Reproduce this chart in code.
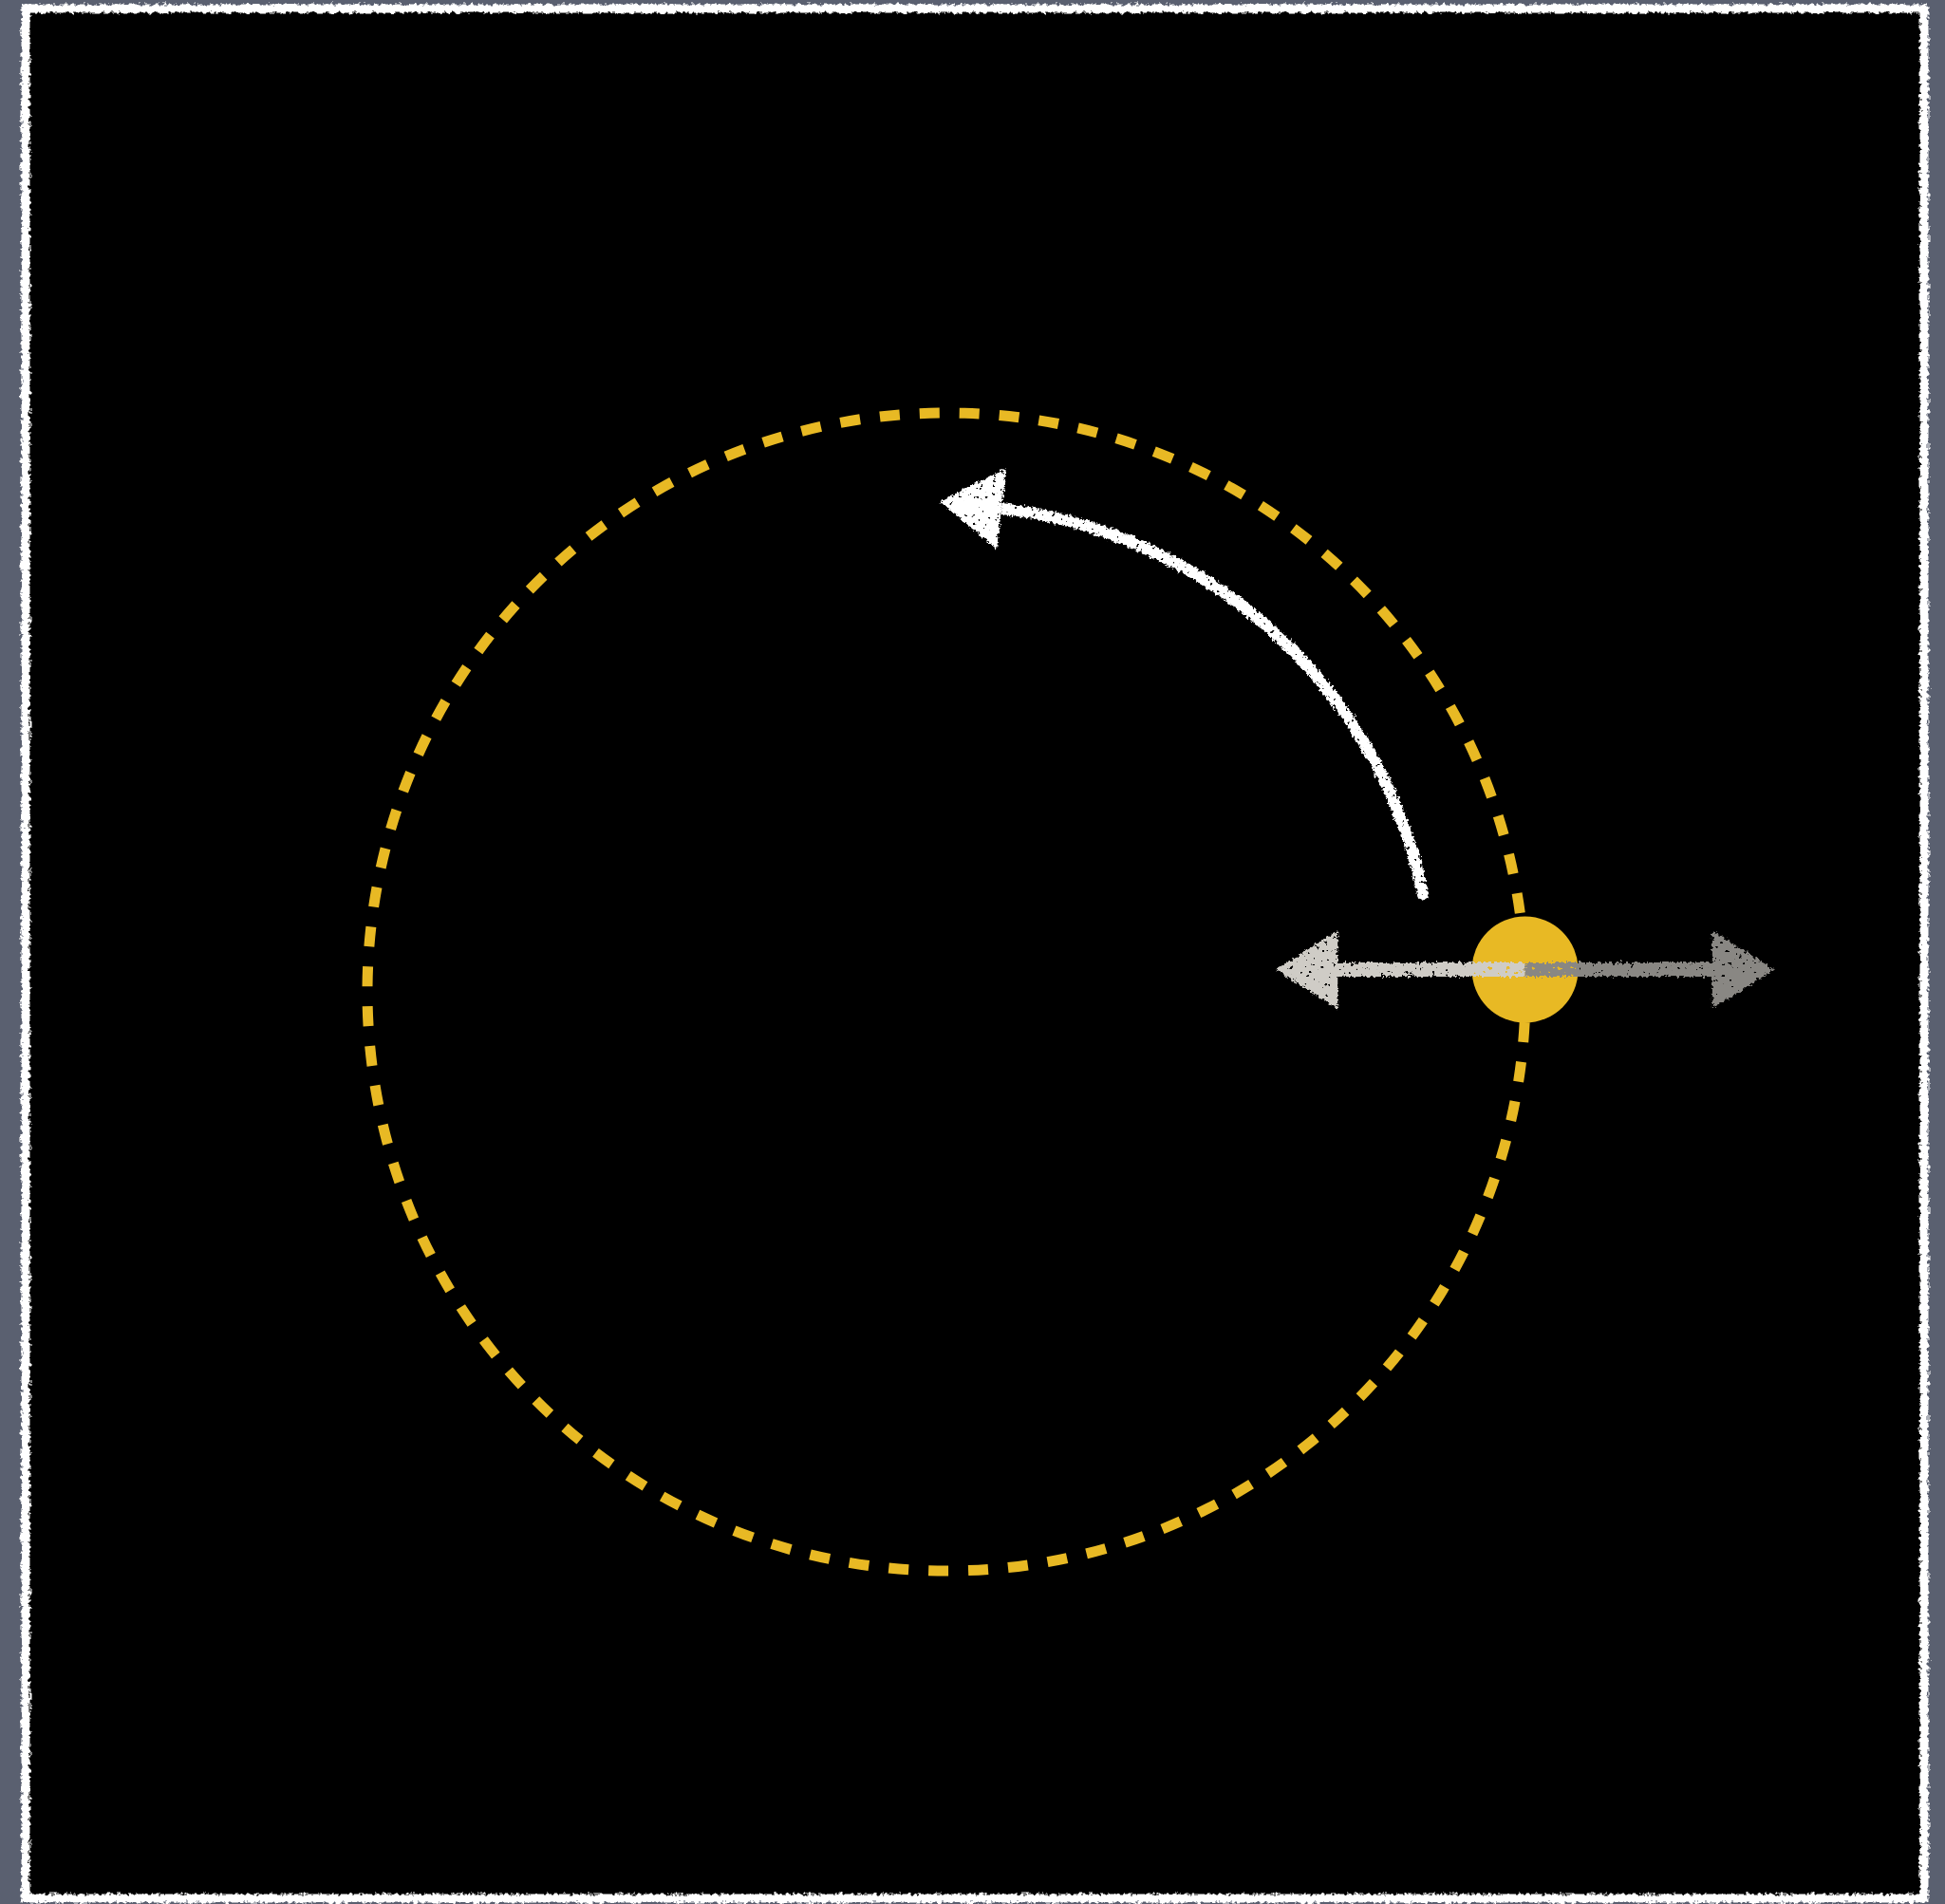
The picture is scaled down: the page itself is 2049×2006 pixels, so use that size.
<!DOCTYPE html>
<html>
<head>
<meta charset="utf-8">
<script src="https://cdn.jsdelivr.net/npm/d3@7"></script>
<style>
  html, body { margin: 0; padding: 0; background: #5a6070; }
  svg { display: block; }
</style>
</head>
<body>
<div id="orbit-chart"></div>
<script>
// Orbit data (orbit radius = 1 unit)
const orbitRadii = [1];
const bodyAngles = [2.2]; // degrees above the horizontal
const pushArrowExtents = [-0.43, 0.43]; // horizontal reach either side of the body
const motionArcAngles = [11, 83.5]; // degrees, start and end of the curved arrow
const motionArcRadii = [0.84];

// Set up dimensions
let width = 2049;
let height = 2006;
let panel = { left: 27, top: 9, right: 2027, bottom: 2000 };
let center = { x: 997, y: 1045 };
let orbitPx = 610;

// Set up colors
let orbitColor = "#e8b924";
let lightChalk = "#cfccc6";
let darkChalk = "#898783";

// Set up scales
let xScale = d3
  .scaleLinear()
  .domain([-1, 1])
  .range([center.x - orbitPx, center.x + orbitPx]);
let yScale = d3
  .scaleLinear()
  .domain([-1, 1])
  .range([center.y + orbitPx, center.y - orbitPx]);

let rad = (deg) => (deg * Math.PI) / 180;

const svg = d3
  .select("#orbit-chart")
  .append("svg")
  .attr("width", width)
  .attr("height", height);

// Chalk filter: rough edges plus little holes
const defs = svg.append("defs");
function addChalkFilter(id, freq, scale, holeFreq, holeCut) {
  const f = defs
    .append("filter")
    .attr("id", id)
    .attr("filterUnits", "userSpaceOnUse")
    .attr("x", 0)
    .attr("y", 0)
    .attr("width", width)
    .attr("height", height);
  f.append("feTurbulence")
    .attr("type", "fractalNoise")
    .attr("baseFrequency", freq)
    .attr("numOctaves", 3)
    .attr("seed", 3)
    .attr("result", "noise");
  f.append("feDisplacementMap")
    .attr("in", "SourceGraphic")
    .attr("in2", "noise")
    .attr("scale", scale)
    .attr("xChannelSelector", "R")
    .attr("yChannelSelector", "G")
    .attr("result", "rough");
  f.append("feTurbulence")
    .attr("type", "fractalNoise")
    .attr("baseFrequency", holeFreq)
    .attr("numOctaves", 2)
    .attr("seed", 11)
    .attr("result", "speck");
  f.append("feColorMatrix")
    .attr("in", "speck")
    .attr("type", "matrix")
    .attr("values", `0 0 0 0 1  0 0 0 0 1  0 0 0 0 1  20 0 0 0 ${-holeCut}`)
    .attr("result", "mask");
  f.append("feComposite")
    .attr("in", "rough")
    .attr("in2", "mask")
    .attr("operator", "in");
}
addChalkFilter("chalk", 0.3, 7, 0.22, 5.2);
addChalkFilter("frame-chalk", 0.25, 7, 0.2, 2);

// Draw board
svg
  .append("rect")
  .attr("x", panel.left)
  .attr("y", panel.top)
  .attr("width", panel.right - panel.left)
  .attr("height", panel.bottom - panel.top)
  .attr("fill", "#000");

svg
  .append("rect")
  .attr("class", "board-frame")
  .attr("x", panel.left)
  .attr("y", panel.top)
  .attr("width", panel.right - panel.left)
  .attr("height", panel.bottom - panel.top)
  .attr("fill", "none")
  .attr("stroke", "#fff")
  .attr("stroke-width", 9)
  .attr("filter", "url(#frame-chalk)");

// Draw dashed orbit
svg
  .append("g")
  .attr("class", "orbit")
  .selectAll("circle")
  .data(orbitRadii)
  .join("circle")
  .attr("cx", xScale(0))
  .attr("cy", yScale(0))
  .attr("r", (d) => xScale(d) - xScale(0))
  .attr("fill", "none")
  .attr("stroke", orbitColor)
  .attr("stroke-width", 11)
  .attr("stroke-dasharray", "21 21")
  .attr("stroke-dashoffset", 10);

// Body position on the orbit
let bodies = bodyAngles.map((a) => ({
  x: Math.cos(rad(a)) * orbitRadii[0],
  y: Math.sin(rad(a)) * orbitRadii[0],
}));

// Draw body
svg
  .append("g")
  .attr("class", "bodies")
  .selectAll("circle")
  .data(bodies)
  .join("circle")
  .attr("cx", (d) => xScale(d.x))
  .attr("cy", (d) => yScale(d.y))
  .attr("r", 56)
  .attr("fill", orbitColor);

// Arrow head helper: base point, unit direction, length, half width
function headPath(bx, by, ux, uy, len, half) {
  let p = d3.path();
  p.moveTo(bx - uy * half, by + ux * half);
  p.lineTo(bx + ux * len, by + uy * len);
  p.lineTo(bx + uy * half, by - ux * half);
  p.closePath();
  return p.toString();
}

// Draw horizontal push arrows from the body
let pushG = svg.append("g").attr("class", "push-arrows").attr("filter", "url(#chalk)");
pushArrowExtents.forEach((ext, i) => {
  let b = bodies[0];
  let x0 = xScale(b.x);
  let y0 = yScale(b.y);
  let headLen = 65;
  let x1 = xScale(b.x + ext);
  let dir = Math.sign(ext);
  let color = i === 0 ? lightChalk : darkChalk;
  pushG
    .append("line")
    .attr("x1", x0)
    .attr("y1", y0)
    .attr("x2", x1 - dir * headLen + dir * 4)
    .attr("y2", y0)
    .attr("stroke", color)
    .attr("stroke-width", 15);
  pushG
    .append("path")
    .attr("d", headPath(x1 - dir * headLen, y0, dir, 0, headLen, 41))
    .attr("fill", color);
});

// Draw curved motion arrow
let motionG = svg.append("g").attr("class", "motion-arrow").attr("filter", "url(#chalk)");
let mr = xScale(motionArcRadii[0]) - xScale(0);
let a0 = -rad(motionArcAngles[0]);
let a1 = -rad(motionArcAngles[1]);
let arcPath = d3.path();
arcPath.arc(xScale(0), yScale(0), mr, a0, a1, true);
motionG
  .append("path")
  .attr("d", arcPath.toString())
  .attr("fill", "none")
  .attr("stroke", "#fff")
  .attr("stroke-width", 12);

let ex = xScale(0) + mr * Math.cos(a1);
let ey = yScale(0) + mr * Math.sin(a1);
motionG
  .append("path")
  .attr("d", headPath(ex, ey, Math.sin(a1), -Math.cos(a1), 65, 43))
  .attr("fill", "#fff");
</script>
</body>
</html>
